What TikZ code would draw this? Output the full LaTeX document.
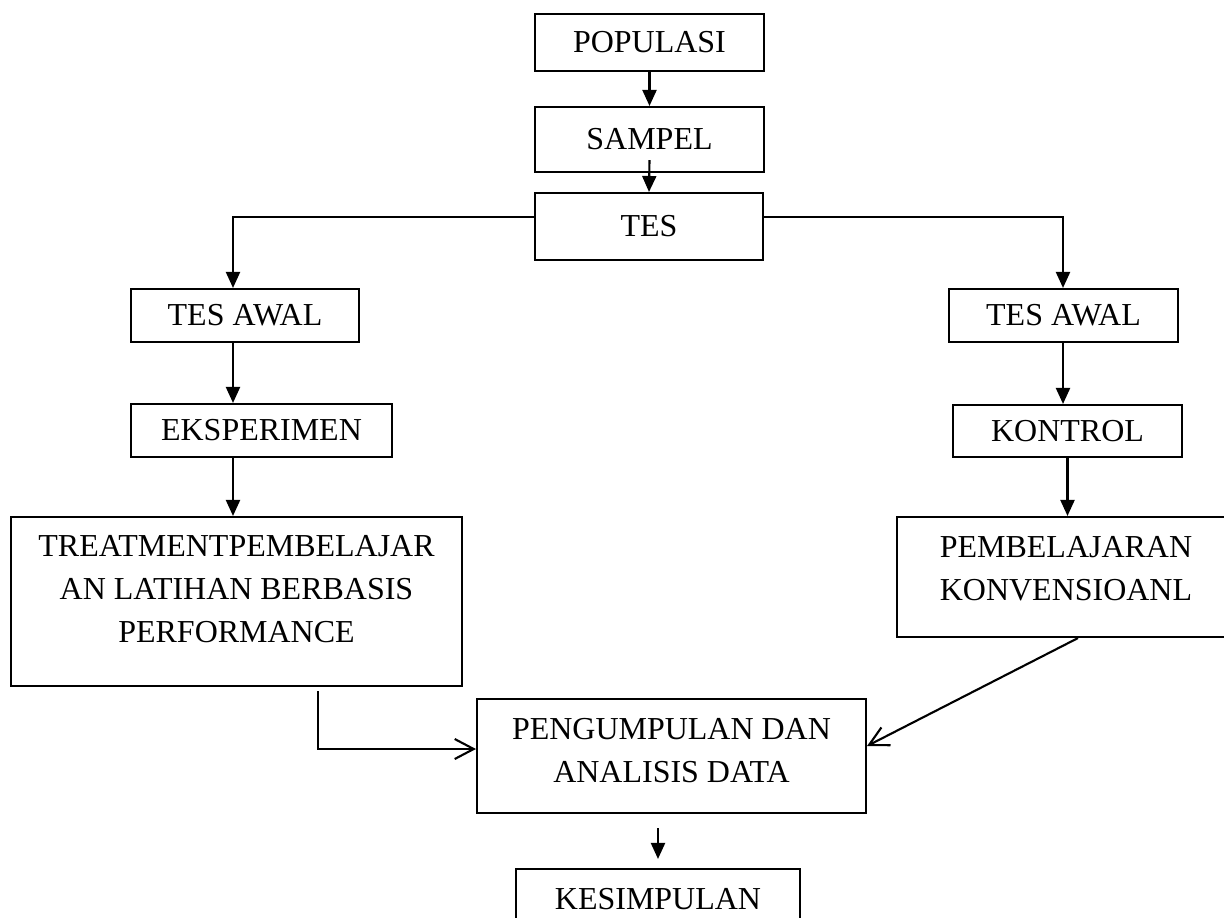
\documentclass[tikz,border=0pt]{standalone}
\usepackage{fontspec}
\setmainfont{Liberation Serif}
\usetikzlibrary{arrows.meta}

\begin{document}
\begin{tikzpicture}[x=0.02cm, y=-0.02cm,
    kotak/.style={draw, line width=1.2pt, inner sep=0pt},
    teks/.style={align=center, inner sep=0pt},
    arr/.style={line width=1.2pt, -{Triangle[width=0.28cm,length=0.32cm]}},
    barb/.style={line width=1.2pt, -{Straight Barb[width=0.4cm,length=0.38cm]}},
    font=\fontsize{18.2}{24.4}\selectfont]
    \useasboundingbox (0,0) rectangle (1224,917);
    \clip (0,0) rectangle (1224,917);

    % alur tengah
    \node[kotak, minimum width=4.58cm, minimum height=1.14cm] (pop) at (649.5,42.5) {POPULASI};
    \node[kotak, minimum width=4.58cm, minimum height=1.30cm] (sam) at (649.5,139.5) {SAMPEL};
    \node[kotak, minimum width=4.56cm, minimum height=1.34cm] (tes) at (649,226.5) {TES};

    % kelompok eksperimen
    \node[kotak, minimum width=4.56cm, minimum height=1.06cm] (awalL) at (245,315.5) {TES AWAL};
    \node[kotak, minimum width=5.22cm, minimum height=1.06cm] (eks) at (261.5,430.5) {EKSPERIMEN};
    \node[kotak, minimum width=9.02cm, minimum height=3.38cm] (treat) at (236.5,601.5) {};
    \node[teks] (treat-txt) at (236.5,589) {TREATMENTPEMBELAJAR\\AN LATIHAN BERBASIS\\PERFORMANCE};

    % kelompok kontrol
    \node[kotak, minimum width=4.58cm, minimum height=1.06cm] (awalR) at (1063.5,315.5) {TES AWAL};
    \node[kotak, minimum width=4.58cm, minimum height=1.04cm] (kon) at (1067.5,431) {KONTROL};
    \node[kotak, minimum width=6.76cm, minimum height=2.40cm] (pemb) at (1066,577) {};
    \node[teks] (pemb-txt) at (1066,568.5) {PEMBELAJARAN\\KONVENSIOANL};

    % bawah
    \node[kotak, minimum width=7.78cm, minimum height=2.28cm] (peng) at (671.5,756) {};
    \node[teks] (peng-txt) at (671.5,750.5) {PENGUMPULAN DAN\\ANALISIS DATA};
    \node[kotak, minimum width=5.68cm, minimum height=1.20cm] (kes) at (658,899) {KESIMPULAN};

    \coordinate (brL) at (233,217);
    \coordinate (brR) at (1063,217);
    \coordinate (tL) at (318,691);
    \coordinate (k1) at (kes.north |- peng.south);

    \draw[arr] (pop.south) -- (sam.north);
    \draw[arr] ([yshift=0.26cm]sam.south) -- (tes.north);
    \draw[arr] (brL -| tes.west) -- (brL) -- (brL |- awalL.north);
    \draw[arr] (brL |- awalL.south) -- (brL |- eks.north);
    \draw[arr] (brL |- eks.south) -- (brL |- treat.north);
    \draw[arr] (brR -| tes.east) -- (brR) -- (brR |- awalR.north);
    \draw[arr] (brR |- awalR.south) -- (brR |- kon.north);
    \draw[arr] (kon.south) -- (kon.south |- pemb.north);
    \draw[barb] (tL) |- ([yshift=0.14cm]peng.west);
    \draw[barb] ([xshift=0.24cm]pemb.south) -- ([yshift=0.2cm]peng.east);
    \draw[arr] ([yshift=-0.28cm]k1) -- ([yshift=0.18cm]kes.north);
\end{tikzpicture}
\end{document}
